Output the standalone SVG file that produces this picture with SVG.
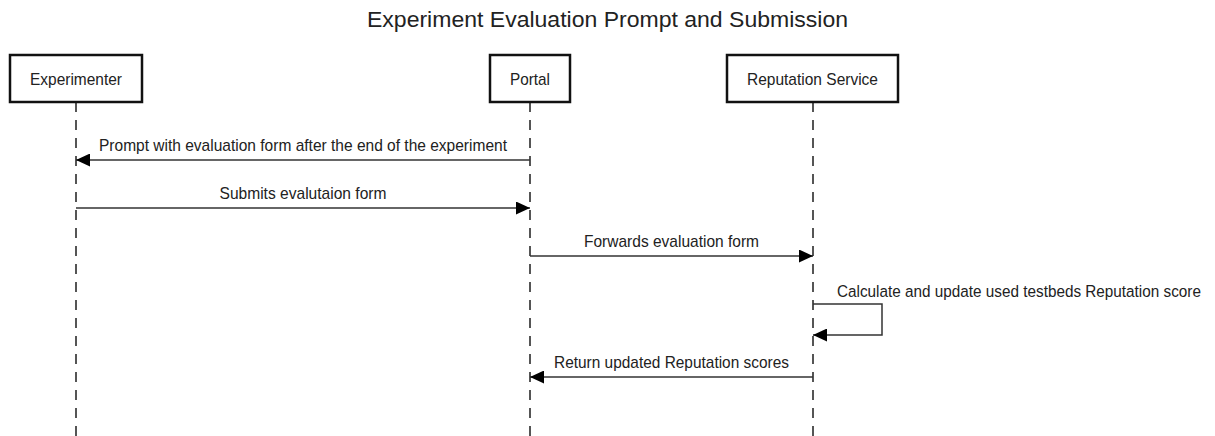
<svg xmlns="http://www.w3.org/2000/svg" width="1215" height="436" viewBox="0 0 1215 436">
<style>
text{font-family:"Liberation Sans",Arial,sans-serif;fill:#222}
.title{font-size:21.5px}
.lbl{font-size:17px}
.box{fill:#fff;stroke:#111;stroke-width:2.5}
.life{stroke:#555;stroke-width:2;stroke-dasharray:10 8;fill:none}
.msg{stroke:#333;stroke-width:1.5;fill:none;marker-end:url(#ah)}
</style>
<defs>
<marker id="ah" markerUnits="userSpaceOnUse" markerWidth="15" markerHeight="13" refX="14" refY="6.5" orient="auto">
<path d="M0,0 L14,6.5 L0,13 z" fill="#000"/>
</marker>
</defs>
<rect width="1215" height="436" fill="#fff"/>
<text class="title" x="607.5" y="27" text-anchor="middle" textLength="481" lengthAdjust="spacingAndGlyphs">Experiment Evaluation Prompt and Submission</text>
<g id="experimenter">
<line class="life" x1="76" y1="102" x2="76" y2="436"/>
<rect class="box" x="10" y="55" width="132" height="47"/>
<text class="lbl" x="76" y="85" text-anchor="middle" textLength="92" lengthAdjust="spacingAndGlyphs">Experimenter</text>
</g>
<g id="portal">
<line class="life" x1="530" y1="102" x2="530" y2="436"/>
<rect class="box" x="490" y="55" width="80" height="47"/>
<text class="lbl" x="530" y="85" text-anchor="middle" textLength="40" lengthAdjust="spacingAndGlyphs">Portal</text>
</g>
<g id="reputation">
<line class="life" x1="813" y1="102" x2="813" y2="436"/>
<rect class="box" x="727" y="55" width="171" height="47"/>
<text class="lbl" x="812.5" y="85" text-anchor="middle" textLength="131" lengthAdjust="spacingAndGlyphs">Reputation Service</text>
</g>
<g id="connectors">
<line class="msg" x1="530" y1="160" x2="76" y2="160"/>
<text class="lbl" x="303" y="151" text-anchor="middle" textLength="408" lengthAdjust="spacingAndGlyphs">Prompt with evaluation form after the end of the experiment</text>
<line class="msg" x1="76" y1="208" x2="530" y2="208"/>
<text class="lbl" x="303" y="199" text-anchor="middle" textLength="167" lengthAdjust="spacingAndGlyphs">Submits evalutaion form</text>
<line class="msg" x1="530" y1="256" x2="813" y2="256"/>
<text class="lbl" x="671.5" y="247" text-anchor="middle" textLength="175" lengthAdjust="spacingAndGlyphs">Forwards evaluation form</text>
<path class="msg" d="M813,304 H882 V335 H813"/>
<text x="0" y="0" style="font-size:15.3px" transform="translate(837,297) scale(1,1.1)">Calculate and update used testbeds Reputation score</text>
<line class="msg" x1="813" y1="377" x2="530" y2="377"/>
<text class="lbl" x="671.5" y="368" text-anchor="middle" textLength="235" lengthAdjust="spacingAndGlyphs">Return updated Reputation scores</text>
</g>
</svg>
